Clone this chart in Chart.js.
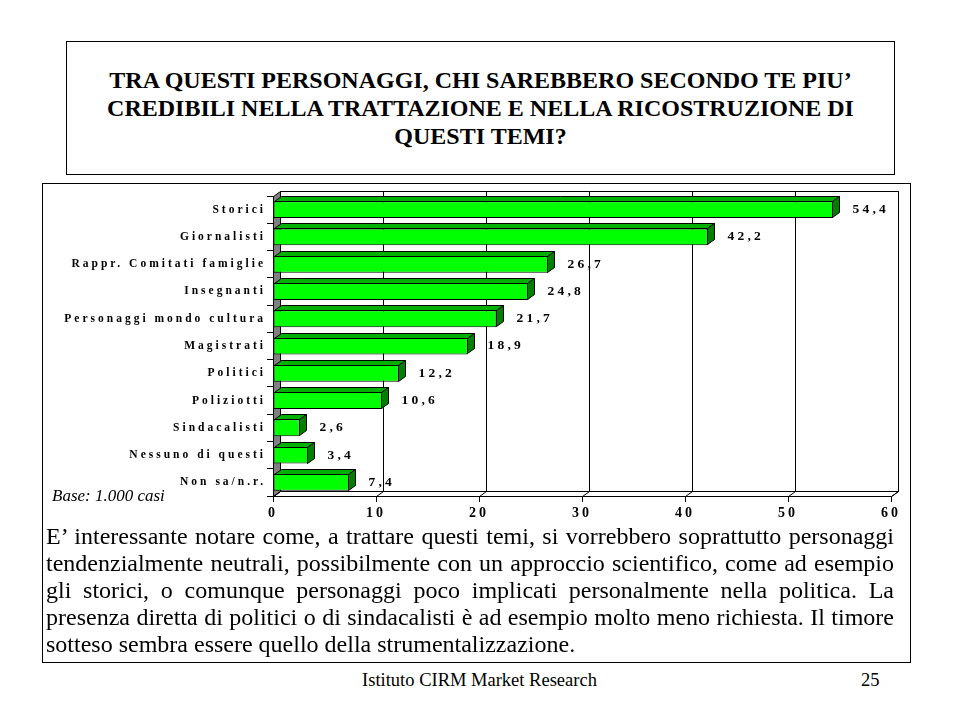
<!DOCTYPE html>
<html>
<head>
<meta charset="utf-8">
<script src="https://cdn.jsdelivr.net/npm/chart.js@4.4.1/dist/chart.umd.min.js"></script>
<style>
  html, body { margin: 0; padding: 0; background: #fff; }
  body { width: 959px; height: 719px; position: relative; overflow: hidden; color: #000; }
  .serif { font-family: 'Liberation Serif', 'Times New Roman', Tinos, 'DejaVu Serif', serif; }
  .box { position: absolute; border: 1px solid #000; box-sizing: border-box; background: #fff; }
  #titleBox { left: 66px; top: 41px; width: 829px; height: 134px; }
  #title { position: absolute; left: 0; right: 0; top: 24px; text-align: center;
           font-weight: bold; font-size: 24px; line-height: 28px; }
  #mainBox { left: 42px; top: 183px; width: 869px; height: 480px; }
  #chartCanvas { position: absolute; left: 0; top: 0; z-index: 2; }
  #base { position: absolute; left: 52px; top: 487px; font-style: italic; font-size: 17px;
          line-height: 18px; z-index: 3; }
  #para { position: absolute; left: 46px; top: 523px; width: 848px; font-size: 24px;
          line-height: 27px; z-index: 3; }
  #para div { text-align: justify; text-align-last: justify; white-space: nowrap; }
  #para div.last { text-align: left; text-align-last: left; }
  #footer { position: absolute; left: 0; width: 959px; top: 669px; text-align: center;
            font-size: 18.5px; line-height: 22px; }
  #page { position: absolute; left: 861px; top: 669px; font-size: 18.5px; line-height: 22px; }
</style>
</head>
<body>
<div class="box" id="titleBox">
  <div id="title" class="serif">TRA QUESTI PERSONAGGI, CHI SAREBBERO SECONDO TE PIU’<br>CREDIBILI NELLA TRATTAZIONE E NELLA RICOSTRUZIONE DI<br>QUESTI TEMI?</div>
</div>
<div class="box" id="mainBox"></div>
<canvas id="chartCanvas" width="959" height="719" style="width:959px;height:719px;"></canvas>
<div id="base" class="serif">Base: 1.000 casi</div>
<div id="para" class="serif">
  <div>E’ interessante notare come, a trattare questi temi, si vorrebbero soprattutto personaggi</div>
  <div>tendenzialmente neutrali, possibilmente con un approccio scientifico, come ad esempio</div>
  <div>gli storici, o comunque personaggi poco implicati personalmente nella politica. La</div>
  <div>presenza diretta di politici o di sindacalisti è ad esempio molto meno richiesta. Il timore</div>
  <div class="last">sotteso sembra essere quello della strumentalizzazione.</div>
</div>
<div id="footer" class="serif">Istituto CIRM Market Research</div>
<div id="page" class="serif">25</div>

<script>
const categories = [
  "Storici",
  "Giornalisti",
  "Rappr. Comitati famiglie",
  "Insegnanti",
  "Personaggi mondo cultura",
  "Magistrati",
  "Politici",
  "Poliziotti",
  "Sindacalisti",
  "Nessuno di questi",
  "Non sa/n.r."
];
const values = [54.4, 42.2, 26.7, 24.8, 21.7, 18.9, 12.2, 10.6, 2.6, 3.4, 7.4];
const xTickValues = [0, 10, 20, 30, 40, 50, 60];

const DX = 7, DY = 5;
const FONT = "'Liberation Serif', 'Times New Roman', serif";

const spacingPlugin = {
  id: 'spacing',
  beforeDraw(chart) { chart.ctx.letterSpacing = '3px'; }
};

const wallsPlugin = {
  id: 'walls',
  beforeDatasetsDraw(chart) {
    const ctx = chart.ctx;
    const { left, right, top, bottom } = chart.chartArea;
    const xs = chart.scales.x;
    const L = Math.round(left) + 0.5, R = Math.round(right) + 0.5;
    const T = Math.round(top) + 0.5, B = Math.round(bottom) + 0.5;
    ctx.save();
    ctx.lineWidth = 1;
    ctx.strokeStyle = '#000';
    ctx.fillStyle = '#fff';
    ctx.beginPath();
    ctx.rect(L + DX, T - DY, R - L, B - T);
    ctx.fill(); ctx.stroke();
    ctx.beginPath();
    ctx.moveTo(L, B); ctx.lineTo(R, B); ctx.lineTo(R + DX, B - DY); ctx.lineTo(L + DX, B - DY); ctx.closePath();
    ctx.fill(); ctx.stroke();
    ctx.fillStyle = '#808080';
    ctx.beginPath();
    ctx.moveTo(L, B); ctx.lineTo(L, T); ctx.lineTo(L + DX, T - DY); ctx.lineTo(L + DX, B - DY); ctx.closePath();
    ctx.fill(); ctx.stroke();
    xTickValues.forEach(v => {
      const px = Math.round(xs.getPixelForValue(v)) + 0.5;
      ctx.beginPath();
      if (v !== xTickValues[0]) {
        ctx.moveTo(px + DX, T - DY); ctx.lineTo(px + DX, B - DY);
      }
      ctx.moveTo(px, B); ctx.lineTo(px + DX, B - DY);
      ctx.stroke();
    });
    ctx.restore();
  }
};

const bars3dPlugin = {
  id: 'bars3d',
  afterDatasetsDraw(chart) {
    const ctx = chart.ctx;
    const meta = chart.getDatasetMeta(0);
    ctx.save();
    ctx.lineWidth = 1;
    ctx.strokeStyle = '#000';
    meta.data.forEach((el, i) => {
      const p = el.getProps(['x', 'y', 'base', 'height'], true);
      const x0 = Math.round(p.base) + 0.5;
      const x1 = Math.round(p.x) - 0.5;
      const yt = Math.round(p.y - p.height / 2) + 0.5;
      const yb = Math.round(p.y + p.height / 2) - 0.5;
      ctx.fillStyle = '#00b000';
      ctx.beginPath();
      ctx.moveTo(x0, yt); ctx.lineTo(x1, yt); ctx.lineTo(x1 + DX, yt - DY); ctx.lineTo(x0 + DX, yt - DY); ctx.closePath();
      ctx.fill(); ctx.stroke();
      ctx.fillStyle = '#007f00';
      ctx.beginPath();
      ctx.moveTo(x1, yt); ctx.lineTo(x1 + DX, yt - DY); ctx.lineTo(x1 + DX, yb - DY); ctx.lineTo(x1, yb); ctx.closePath();
      ctx.fill(); ctx.stroke();
      ctx.fillStyle = '#000';
      ctx.font = 'bold 13.5px ' + FONT;
      ctx.letterSpacing = '3.2px';
      ctx.textAlign = 'left';
      ctx.textBaseline = 'middle';
      const txt = String(values[i]).replace('.', ',');
      ctx.fillText(txt, x1 + DX + 13, p.y);
    });
    ctx.restore();
  }
};

new Chart(document.getElementById('chartCanvas'), {
  type: 'bar',
  data: {
    labels: categories,
    datasets: [{
      data: values,
      backgroundColor: '#00ff00',
      borderColor: '#000',
      borderWidth: 1,
      borderSkipped: false,
      barPercentage: 0.62,
      categoryPercentage: 1.0
    }]
  },
  options: {
    indexAxis: 'y',
    responsive: false,
    animation: false,
    devicePixelRatio: 1,
    layout: { padding: { left: 0, right: 68, top: 196, bottom: 193 } },
    plugins: { legend: { display: false }, tooltip: { enabled: false }, title: { display: false } },
    scales: {
      x: {
        min: 0, max: 60,
        afterBuildTicks(scale) { scale.ticks = xTickValues.map(v => ({ value: v })); },
        afterFit(scale) { scale.height = 30; },
        grid: { drawOnChartArea: false, drawTicks: true, tickLength: 6, color: '#000' },
        border: { display: true, color: '#000' },
        ticks: { color: '#000', padding: 3, maxRotation: 0, font: { family: FONT, size: 14, weight: 'bold' } }
      },
      y: {
        afterFit(scale) { scale.width = 273; },
        grid: { drawOnChartArea: false, drawTicks: true, tickLength: 6, color: '#000', offset: true },
        border: { display: true, color: '#000' },
        ticks: { color: '#000', padding: 1, autoSkip: false, font: { family: FONT, size: 11.5, weight: 'bold' } }
      }
    }
  },
  plugins: [spacingPlugin, wallsPlugin, bars3dPlugin]
});
</script>
</body>
</html>
